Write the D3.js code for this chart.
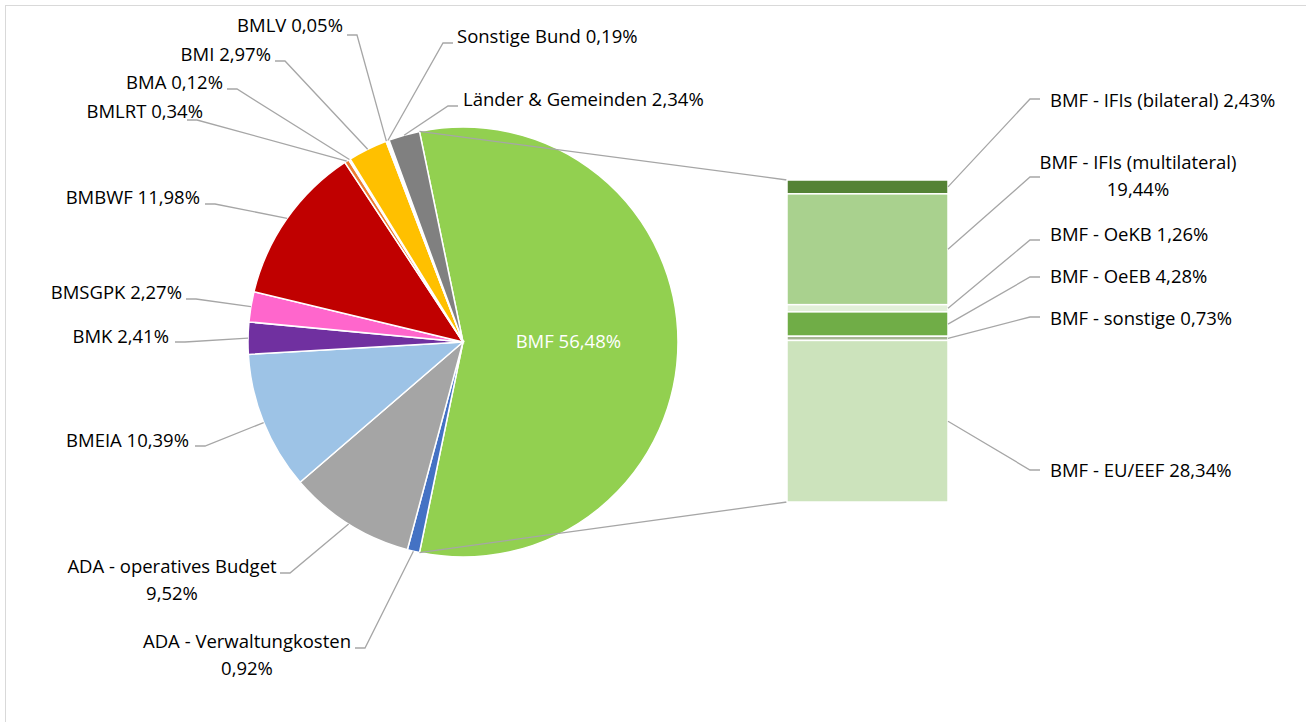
<!DOCTYPE html>
<html>
<head>
<meta charset="utf-8">
<script src="https://cdn.jsdelivr.net/npm/d3@7"></script>
<style>
  body { margin: 0; background: #fff; }
  text { font-family: "Open Sans", Lato, sans-serif; font-size: 18.5px; fill: #000; }
</style>
</head>
<body>
<script>
// Kuchen: Kategorien und Anteile (%)
const pieNames = ["BMF", "ADA - Verwaltungkosten", "ADA - operatives Budget", "BMEIA", "BMK", "BMSGPK",
  "BMBWF", "BMLRT", "BMA", "BMI", "BMLV", "Sonstige Bund", "Länder & Gemeinden"];
const pieValues = [56.48, 0.92, 9.52, 10.39, 2.41, 2.27, 11.98, 0.34, 0.12, 2.97, 0.05, 0.19, 2.34];
const pieColors = ["#92D050", "#4472C4", "#A5A5A5", "#9DC3E6", "#7030A0", "#FF66CC",
  "#C00000", "#ED7D31", "#F8CBAD", "#FFC000", "#000000", "#FFFFFF", "#808080"];

// Balken: Aufteilung BMF
const barNames = ["BMF - IFIs (bilateral)", "BMF - IFIs (multilateral)", "BMF - OeKB", "BMF - OeEB",
  "BMF - sonstige", "BMF - EU/EEF"];
const barValues = [2.43, 19.44, 1.26, 4.28, 0.73, 28.34];
const barColors = ["#548235", "#A9D18E", "#E2F0D9", "#70AD47", "#A5B592", "#CCE3BC"];

const fmt = v => v.toFixed(2).replace(".", ",") + "%";

// Beschriftungen: Textposition + Knick der Führungslinie
// [tx, ty, anchor, kx, ky, lines]
const pieLabelPos = [
  null,
  [247, 642, "middle", 355, 648, 2],
  [172, 567, "middle", 280, 573, 2],
  [189, 441, "end", 195, 446, 1],
  [169, 337, "end", 175, 342, 1],
  [182, 293, "end", 186, 299, 1],
  [200, 198, "end", 205, 204, 1],
  [203, 112, "end", 187, 120, 1],
  [223, 83, "end", 227, 89, 1],
  [271, 55, "end", 275, 61, 1],
  [343, 26, "end", 347, 35, 1],
  [457, 37, "start", 453, 43, 1],
  [463, 100, "start", 458, 106, 1]
];
const barLabelPos = [
  [1050, 101, "start", 1040, 99, 1],
  [1138, 163, "middle", 1040, 177, 2],
  [1050, 235, "start", 1040, 240, 1],
  [1050, 277, "start", 1040, 277, 1],
  [1050, 319, "start", 1040, 317, 1],
  [1050, 471, "start", 1040, 470, 1]
];

const W = 1306, H = 722;
const svg = d3.select("body").append("svg")
  .attr("width", W)
  .attr("height", H);

// Rahmen
svg.append("rect")
  .attr("x", 5.5).attr("y", 5.5)
  .attr("width", 1400).attr("height", 900)
  .attr("fill", "none")
  .attr("stroke", "#D9D9D9");

const cx = 463, cy = 342, R = 215;
const total = d3.sum(pieValues);
const bmfAngle = pieValues[0] / total * 2 * Math.PI;
const start = Math.PI / 2 - bmfAngle / 2;

const pie = d3.pie().sort(null).startAngle(start).endAngle(start + 2 * Math.PI);
const arcs = pie(pieValues);
const arc = d3.arc().innerRadius(0).outerRadius(R);

const g = svg.append("g").attr("transform", `translate(${cx},${cy})`);

const pt = (a, r) => [cx + r * Math.sin(a), cy - r * Math.cos(a)];

// Verbindungslinien Kuchen -> Balken
const bx = 787, bw = 161;
const y = d3.scaleLinear().domain([0, d3.sum(barValues)]).range([180, 502]);
const p1 = pt(arcs[0].startAngle, R), p2 = pt(arcs[0].endAngle, R);
svg.append("path")
  .attr("d", `M${p1[0]},${p1[1]}L${bx},${y(0)}M${p2[0]},${p2[1]}L${bx},${y(d3.sum(barValues))}`)
  .attr("stroke", "#A6A6A6")
  .attr("stroke-width", 1.3)
  .attr("fill", "none");

g.selectAll("path.slice")
  .data(arcs)
  .join("path")
  .attr("class", "slice")
  .attr("d", arc)
  .attr("fill", (d, i) => pieColors[i])
  .attr("stroke", "#fff")
  .attr("stroke-width", 1.5);

// Balken
const cum = d3.cumsum([0, ...barValues]);
svg.selectAll("rect.bar")
  .data(barValues)
  .join("rect")
  .attr("class", "bar")
  .attr("x", bx)
  .attr("width", bw)
  .attr("y", (d, i) => y(cum[i]))
  .attr("height", d => y(d) - y(0))
  .attr("fill", (d, i) => barColors[i])
  .attr("stroke", "#fff")
  .attr("stroke-width", 1.5);

// Beschriftung BMF im Kuchen
const mid = (arcs[0].startAngle + arcs[0].endAngle) / 2;
const bp = pt(mid, R * 0.49);
svg.append("text")
  .attr("x", bp[0]).attr("y", bp[1])
  .attr("dy", "0.35em")
  .attr("text-anchor", "middle")
  .style("fill", "#fff")
  .text(pieNames[0] + " " + fmt(pieValues[0]));

function drawLabel(pos, name, value, target) {
  const [tx, ty, anchor, kx, ky, lines] = pos;
  const dir = (anchor === "start" || (anchor === "middle" && kx > target[0])) ? -1 : 1;
  const k2 = kx + dir * 10;
  svg.append("path")
    .attr("d", `M${kx},${ky}L${k2},${ky}L${target[0]},${target[1]}`)
    .attr("stroke", "#A6A6A6")
    .attr("stroke-width", 1.3)
    .attr("fill", "none");
  const t = svg.append("text")
    .attr("x", tx).attr("y", ty)
    .attr("dy", "0.35em")
    .attr("text-anchor", anchor);
  if (lines === 2) {
    t.append("tspan").attr("x", tx).text(name);
    t.append("tspan").attr("x", tx).attr("dy", 27).text(fmt(value));
  } else {
    t.text(name + " " + fmt(value));
  }
}

arcs.forEach((a, i) => {
  if (i === 0) return;
  const m = (a.startAngle + a.endAngle) / 2;
  drawLabel(pieLabelPos[i], pieNames[i], pieValues[i], pt(m, R));
});

barValues.forEach((v, i) => {
  const ym = (y(cum[i]) + y(cum[i + 1])) / 2;
  drawLabel(barLabelPos[i], barNames[i], v, [bx + bw, ym]);
});
</script>
</body>
</html>
